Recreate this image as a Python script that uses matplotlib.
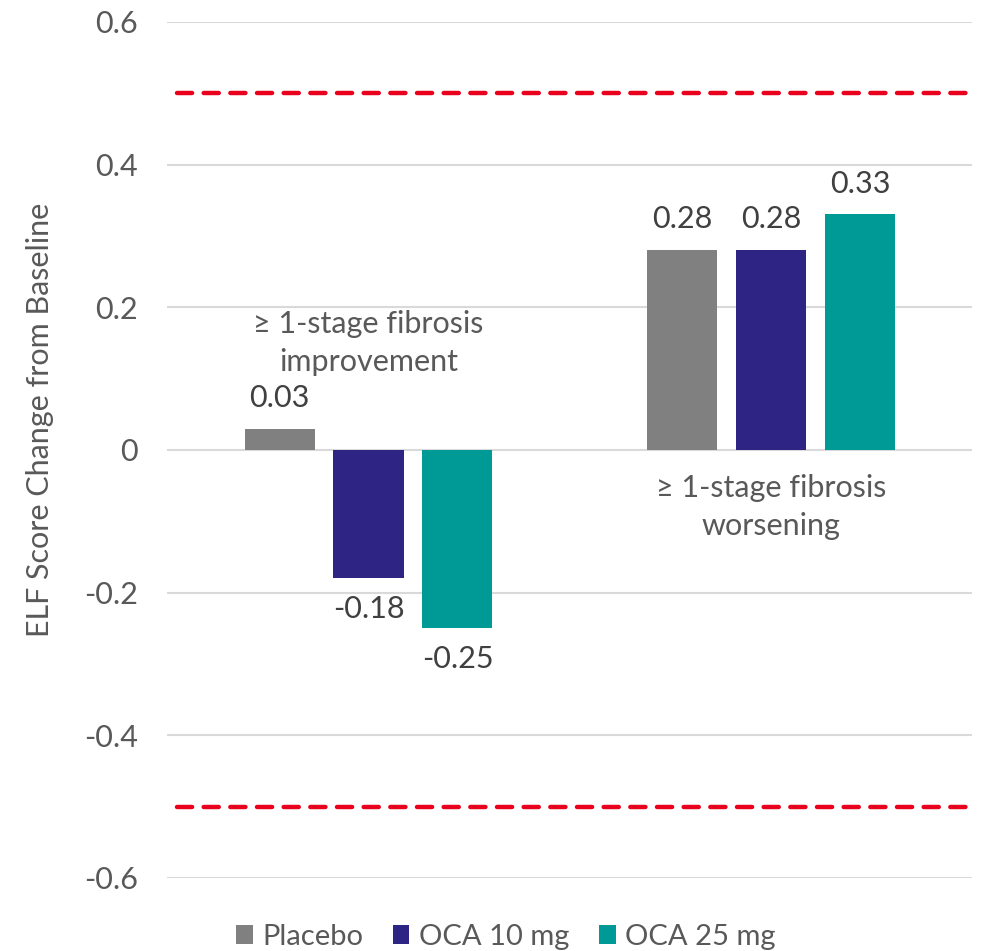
import numpy as np
import matplotlib.pyplot as plt
from matplotlib.patches import Patch

plt.rcParams['font.family'] = ['Lato', 'DejaVu Sans']

# groups along the x axis and the three arms
groups = ['≥ 1-stage fibrosis\nimprovement', '≥ 1-stage fibrosis\nworsening']
arms = ['Placebo', 'OCA 10 mg', 'OCA 25 mg']
placebo = [0.03, 0.28]
oca10 = [-0.18, 0.28]
oca25 = [-0.25, 0.33]
yticks = [-0.6, -0.4, -0.2, 0, 0.2, 0.4, 0.6]
ytick_labels = ['-0.6', '-0.4', '-0.2', '0', '0.2', '0.4', '0.6']
threshold = 0.5

colors = ['#808080', '#2E2483', '#009A96']
series = [placebo, oca10, oca25]
fs = 22

fig = plt.figure(figsize=(9.84, 9.51), dpi=100)
ax = fig.add_axes([0.170, 0.0768, 0.818, 0.9002])

x = np.arange(len(groups))
width = 0.174
step = 0.221

for i, (vals, col) in enumerate(zip(series, colors)):
    pos = x + (i - 1) * step
    ax.bar(pos, vals, width=width, color=col, zorder=3)
    for p, v in zip(pos, vals):
        off = 0.043 if v >= 0 else -0.043
        ax.text(p, v + off, f'{v:.2f}', ha='center', va='center',
                fontsize=fs, color='#404040', zorder=4)

# group captions
ax.text(x[0], 0.150, groups[0], ha='center', va='center', fontsize=fs,
        color='#595959', linespacing=1.4)
ax.text(x[1], -0.080, groups[1], ha='center', va='center', fontsize=fs,
        color='#595959', linespacing=1.4)

# threshold lines
for yv in (threshold, -threshold):
    ax.plot([-0.475, 1.507], [yv, yv], color='#E8001C', lw=3.2,
            dashes=(3.4, 2.6), dash_capstyle='round', clip_on=False, zorder=5)

ax.set_xlim(-0.5, 1.5)
ax.set_ylim(-0.6, 0.6)
ax.set_yticks(yticks)
ax.set_yticklabels(ytick_labels)
ax.set_xticks([])
ax.tick_params(axis='y', length=0, pad=21, labelsize=fs, labelcolor='#595959')
ax.grid(axis='y', color='#D9D9D9', lw=1.5, zorder=0)
for s in ax.spines.values():
    s.set_visible(False)

ax.set_ylabel('ELF Score Change from Baseline', fontsize=fs, color='#595959')
ax.yaxis.set_label_coords(-0.141, 0.535)

handles = [Patch(facecolor=c, edgecolor='none') for c in colors]
fig.legend(handles, arms, loc='center', bbox_to_anchor=(0.514, 0.0150),
           ncol=3, frameon=False, fontsize=21, handlelength=0.58,
           handleheight=0.58, handletextpad=0.33, columnspacing=1.0,
           labelcolor='#595959', borderpad=0)

fig.savefig('out.png', dpi=100)
